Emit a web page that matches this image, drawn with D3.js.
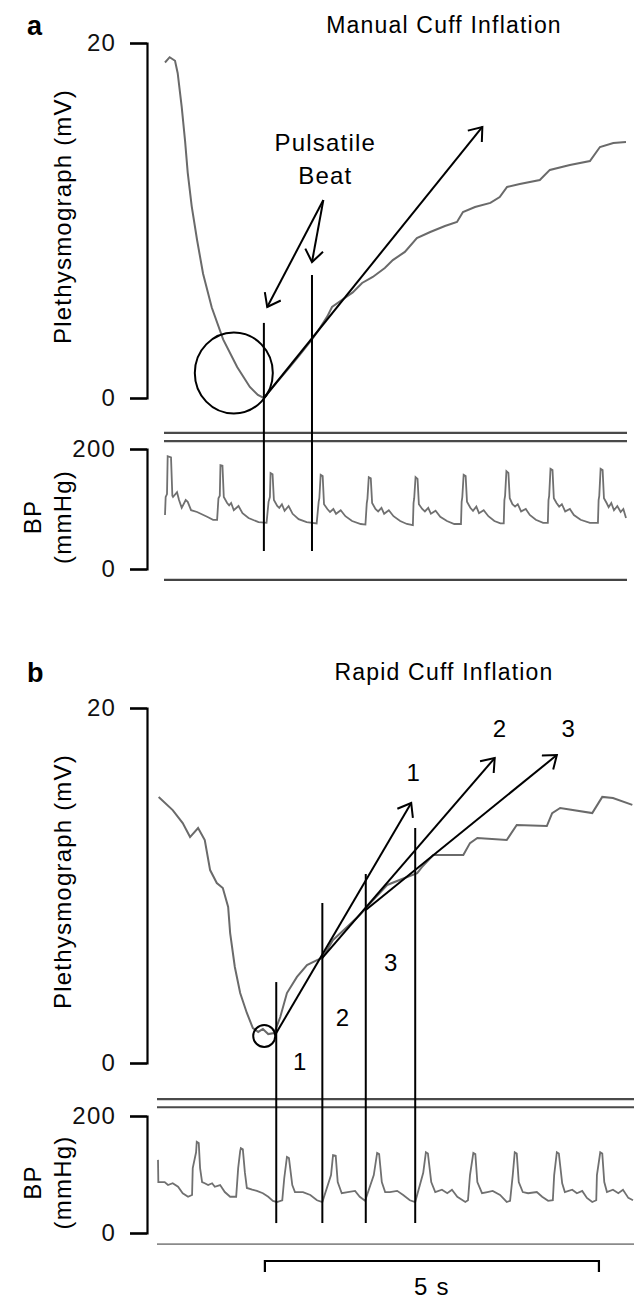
<!DOCTYPE html>
<html>
<head>
<meta charset="utf-8">
<script src="https://cdn.jsdelivr.net/npm/d3@7"></script>
<style>
  body { margin: 0; background: #fff; }
  text { font-family: "Liberation Sans", Arial, sans-serif; letter-spacing: 1.2px; }
</style>
</head>
<body>
<div id="chart"></div>
<script>
/* Cuff inflation traces: plethysmograph (mV) and BP (mmHg) against time (s) */

// ---- panel a: manual cuff inflation ----
const plethA = [
  [0.00,18.9],[0.07,19.2],[0.15,19.0],[0.19,18.3],[0.25,16.4],[0.30,14.5],[0.34,12.7],
  [0.40,10.8],[0.48,8.9],[0.57,7.0],[0.70,5.1],[0.87,3.3],[1.08,1.75],[1.27,0.62],
  [1.39,0.17],[1.48,0.0],[1.65,0.78],[1.87,1.75],[2.02,2.45],[2.20,3.3],[2.32,3.95],
  [2.43,4.6],[2.50,5.13],[2.62,5.45],[2.81,5.95],[2.95,6.48],[3.11,6.82],[3.29,7.32],
  [3.41,7.77],[3.59,8.23],[3.77,9.01],[3.97,9.35],[4.19,9.69],[4.37,9.92],[4.46,10.48],
  [4.64,10.76],[4.87,10.99],[5.01,11.32],[5.12,11.89],[5.31,12.06],[5.61,12.28],
  [5.76,12.85],[6.06,13.13],[6.36,13.35],[6.51,14.14],[6.71,14.37],[6.90,14.42]
];

const bpA = [
  [0.00,90],[0.01,120],[0.03,125],[0.04,188],[0.09,186],[0.11,122],[0.12,120],[0.18,128],
  [0.21,115],[0.25,102],[0.31,115],[0.34,112],[0.39,98],[0.48,95],[0.63,87],[0.72,82],[0.78,82],
  [0.80,118],[0.82,122],[0.83,173],[0.86,172],[0.88,120],[0.93,110],[0.96,106],[0.99,110],
  [1.03,98],[1.10,105],[1.16,93],[1.25,85],[1.40,78],[1.52,77],
  [1.55,112],[1.57,120],[1.58,160],[1.61,158],[1.63,115],[1.68,105],[1.71,102],[1.75,108],
  [1.79,97],[1.85,105],[1.91,92],[2.00,83],[2.12,78],[2.27,76],
  [2.30,112],[2.31,118],[2.33,157],[2.36,155],[2.38,108],[2.43,100],[2.47,95],[2.52,100],
  [2.56,92],[2.63,98],[2.70,88],[2.80,80],[2.93,75],[3.00,74],
  [3.02,110],[3.03,117],[3.05,153],[3.08,151],[3.10,110],[3.15,100],[3.19,96],[3.24,102],
  [3.28,92],[3.35,98],[3.42,88],[3.52,80],[3.62,75],[3.71,73],
  [3.72,110],[3.73,118],[3.75,153],[3.78,150],[3.80,108],[3.85,100],[3.89,96],[3.94,102],
  [3.98,92],[4.05,97],[4.12,87],[4.22,80],[4.33,75],[4.43,75],
  [4.44,112],[4.45,120],[4.47,157],[4.50,155],[4.52,112],[4.57,102],[4.61,97],[4.66,104],
  [4.70,93],[4.77,98],[4.84,88],[4.93,80],[5.02,76],[5.07,76],
  [5.08,115],[5.09,122],[5.11,163],[5.14,160],[5.16,118],[5.20,108],[5.24,104],[5.28,108],
  [5.33,96],[5.40,100],[5.46,90],[5.55,82],[5.66,77],[5.73,77],
  [5.74,115],[5.75,122],[5.77,167],[5.80,165],[5.82,118],[5.86,110],[5.90,104],[5.94,108],
  [5.99,96],[6.06,100],[6.12,90],[6.22,82],[6.36,77],[6.48,77],
  [6.49,115],[6.50,122],[6.52,167],[6.55,165],[6.57,118],[6.61,110],[6.64,103],[6.68,110],
  [6.72,98],[6.77,105],[6.82,95],[6.86,100],[6.90,85]
];

// slope arrow and "Pulsatile Beat" pointers, in (s, mV)
const slopeArrowA = [[1.48, 0.0], [4.75, 15.27]];
const beatPointerStart = [2.37, 11.15];
const beatPointerEnds = [[1.53, 5.13], [2.20, 7.66]];
const beatLinesA = [1.48, 2.20];        // s
const beatLineTopsA = [4.23, 6.93];     // mV
const beatLineBottomA = 30;             // mmHg
const circleA = [1.03, 1.41];           // s, mV
const frameA = [227, 213, -18];         // mmHg

// ---- panel b: rapid cuff inflation ----
const plethB = [
  [0.01,14.99],[0.22,14.25],[0.37,13.52],[0.48,12.73],[0.60,13.24],[0.70,12.56],[0.78,10.87],
  [0.88,10.14],[0.97,9.86],[1.05,8.79],[1.08,7.32],[1.15,5.41],[1.23,3.94],[1.33,2.82],
  [1.42,1.97],[1.50,1.75],[1.57,1.92],[1.65,1.63],[1.74,1.69],[1.83,2.59],[1.93,3.94],
  [2.08,4.85],[2.23,5.52],[2.38,5.80],[2.46,5.92],[2.62,6.93],[2.83,7.66],[3.02,8.34],
  [3.22,9.18],[3.43,10.03],[3.73,10.48],[3.88,10.70],[3.95,11.04],[4.12,11.72],[4.57,11.72],
  [4.67,12.39],[4.78,12.68],[5.22,12.56],[5.37,13.41],[5.82,13.35],[5.90,14.08],[6.02,14.37],
  [6.50,14.08],[6.65,14.99],[6.81,14.93],[7.10,14.54]
];

const bpB = [
  [0.00,125],[0.005,87],[0.10,87],[0.15,82],[0.22,85],[0.30,79],[0.37,68],[0.45,62],[0.51,65],
  [0.52,111],[0.57,138],[0.58,156],[0.61,154],[0.63,111],[0.66,87],[0.70,85],[0.75,82],
  [0.81,85],[0.85,79],[0.93,82],[1.00,70],[1.08,62],[1.17,62],
  [1.20,111],[1.23,140],[1.24,145],[1.27,143],[1.30,104],[1.33,77],[1.41,74],[1.48,72],
  [1.57,68],[1.65,62],[1.72,55],[1.78,53],
  [1.86,56],[1.89,94],[1.93,130],[1.96,128],[2.01,82],[2.05,70],[2.17,70],[2.28,65],[2.38,56],[2.46,53],
  [2.59,99],[2.62,133],[2.66,132],[2.69,87],[2.75,68],[2.84,70],[2.95,72],[3.02,62],[3.10,55],
  [3.23,99],[3.28,137],[3.31,135],[3.35,87],[3.40,70],[3.47,70],[3.58,72],[3.67,65],[3.77,56],[3.85,53],
  [3.97,103],[4.01,138],[4.04,136],[4.09,87],[4.15,70],[4.25,74],[4.33,68],[4.40,74],[4.48,62],
  [4.60,53],[4.64,56],
  [4.67,99],[4.72,137],[4.75,135],[4.78,87],[4.85,68],[4.93,70],[5.01,72],[5.12,65],[5.22,53],[5.27,55],
  [5.31,99],[5.34,138],[5.37,136],[5.40,87],[5.46,70],[5.54,68],[5.67,70],[5.75,62],[5.84,55],[5.91,56],
  [5.93,99],[5.97,138],[6.00,136],[6.05,85],[6.09,70],[6.20,74],[6.27,68],[6.35,72],[6.42,60],
  [6.50,53],[6.56,56],
  [6.57,99],[6.62,138],[6.65,136],[6.68,87],[6.72,70],[6.81,74],[6.89,68],[6.96,74],[7.04,60],[7.11,56]
];

const slopeArrowsB = [
  [[1.77, 1.69], [3.79, 14.65]],
  [[2.46, 5.92], [5.04, 17.18]],
  [[3.11, 8.62], [5.97, 17.35]]
];
const arrowLabelsB = [["1", 3.83, 16.39], ["2", 5.12, 18.87], ["3", 6.15, 18.87]];
const segmentLabelsB = [["1", 2.13, 0.06], ["2", 2.77, 2.54], ["3", 3.49, 5.69]];
const beatLinesB = [1.77, 2.46, 3.11, 3.85];
const beatLineTopsB = [4.56, 9.01, 10.65, 13.24];
const beatLineBottomB = 17;
const circleB = [1.59, 1.52];
const frameB = [229, 215, -19];
const scaleBar = [1.6, 6.6];   // 5 s

const plethTicks = [0, 20];
const bpTicks = [0, 200];

// ---- layout ----
const width = 636, height = 1301, axisX = 147;

const svg = d3.select("#chart").append("svg")
    .attr("width", width)
    .attr("height", height);

svg.append("defs").append("marker")
    .attr("id", "head")
    .attr("viewBox", "-16 -10 18 20")
    .attr("refX", 0).attr("refY", 0)
    .attr("markerWidth", 18).attr("markerHeight", 20)
    .attr("markerUnits", "userSpaceOnUse")
    .attr("orient", "auto")
  .append("path")
    .attr("d", "M-12,-9L0,0L-12,9")
    .attr("fill", "none")
    .attr("stroke", "#000")
    .attr("stroke-width", 2);

const panels = [
  { label: "a", title: "Manual Cuff Inflation", labelY: 35, titleY: 33,
    x: d3.scaleLinear().domain([0, 6.9]).range([165, 626]),
    yP: d3.scaleLinear().domain([0, 20]).range([398, 43]),
    yB: d3.scaleLinear().domain([0, 200]).range([569, 449]),
    pleth: plethA, bp: bpA, frame: frameA, circle: circleA, r: 39,
    lines: beatLinesA, tops: beatLineTopsA, bottom: beatLineBottomA, bottomColor: "#444" },
  { label: "b", title: "Rapid Cuff Inflation", labelY: 682, titleY: 680,
    x: d3.scaleLinear().domain([0, 7.11]).range([158, 633]),
    yP: d3.scaleLinear().domain([0, 20]).range([1063, 708]),
    yB: d3.scaleLinear().domain([0, 200]).range([1233, 1116]),
    pleth: plethB, bp: bpB, frame: frameB, circle: circleB, r: 11,
    lines: beatLinesB, tops: beatLineTopsB, bottom: beatLineBottomB, bottomColor: "#8a8a8a" }
];

panels.forEach(p => {
  const g = svg.append("g");

  g.append("text")
      .text(p.label)
      .attr("x", 27).attr("y", p.labelY)
      .style("font-size", "27px").style("font-weight", "bold");

  g.append("text")
      .text(p.title)
      .attr("x", 444).attr("y", p.titleY)
      .attr("text-anchor", "middle")
      .style("font-size", "23px");

  // bracket axes
  const axP = g.append("g")
      .attr("transform", `translate(${axisX},0)`)
      .call(d3.axisLeft(p.yP).tickValues(plethTicks).tickSize(17).tickSizeOuter(17).tickPadding(14));
  const axB = g.append("g")
      .attr("transform", `translate(${axisX},0)`)
      .call(d3.axisLeft(p.yB).tickValues(bpTicks).tickSize(17).tickSizeOuter(17).tickPadding(14));
  [axP, axB].forEach(ax => {
    ax.selectAll("path, line").attr("stroke", "#000").attr("stroke-width", 2.2);
    ax.selectAll("text").style("font-size", "24px").attr("fill", "#111")
      .style("font-family", "'Liberation Sans', Arial, sans-serif");
  });

  // axis titles
  const midP = (p.yP(0) + p.yP(20)) / 2 - 4;
  g.append("text")
      .text("Plethysmograph (mV)")
      .attr("transform", `translate(71,${midP}) rotate(-90)`)
      .attr("text-anchor", "middle")
      .style("font-size", "24px");
  const midB = (p.yB(0) + p.yB(200)) / 2 + 8;
  g.append("text")
      .text("BP")
      .attr("transform", `translate(41,${midB}) rotate(-90)`)
      .attr("text-anchor", "middle")
      .style("font-size", "24px");
  g.append("text")
      .text("(mmHg)")
      .attr("transform", `translate(71,${midB}) rotate(-90)`)
      .attr("text-anchor", "middle")
      .style("font-size", "24px");

  // recorder frame lines
  const [x0, x1] = p.x.range();
  g.selectAll(".frame")
    .data(p.frame)
    .join("line")
      .attr("x1", x0 - 1).attr("x2", x1 + 1)
      .attr("y1", d => p.yB(d)).attr("y2", d => p.yB(d))
      .attr("stroke", (d, i) => i < 2 ? "#4a4a4a" : p.bottomColor)
      .attr("stroke-width", (d, i) => i < 2 ? 2.2 : (p.label == "a" ? 2.2 : 1.6));

  // traces
  g.append("path")
      .datum(p.bp)
      .attr("fill", "none")
      .attr("stroke", "#707070")
      .attr("stroke-width", 1.8)
      .attr("d", d3.line().x(d => p.x(d[0])).y(d => p.yB(d[1])));

  g.append("path")
      .datum(p.pleth)
      .attr("fill", "none")
      .attr("stroke", "#6a6a6a")
      .attr("stroke-width", 2)
      .attr("d", d3.line().x(d => p.x(d[0])).y(d => p.yP(d[1])));

  // vertical beat markers across both traces
  g.selectAll(".beat")
    .data(p.lines)
    .join("line")
      .attr("x1", d => p.x(d)).attr("x2", d => p.x(d))
      .attr("y1", (d, i) => p.yP(p.tops[i]))
      .attr("y2", p.yB(p.bottom))
      .attr("stroke", "#000")
      .attr("stroke-width", 2);

  g.append("ellipse")
      .attr("cx", p.x(p.circle[0])).attr("cy", p.yP(p.circle[1]))
      .attr("rx", p.r).attr("ry", p.r + (p.label == "a" ? 1.5 : 0))
      .attr("fill", "none").attr("stroke", "#000").attr("stroke-width", 2);
});

const A = panels[0], B = panels[1];

function arrow(p, from, to) {
  svg.append("line")
      .attr("x1", p.x(from[0])).attr("y1", p.yP(from[1]))
      .attr("x2", p.x(to[0])).attr("y2", p.yP(to[1]))
      .attr("stroke", "#000").attr("stroke-width", 2)
      .attr("marker-end", "url(#head)");
}

// panel a annotations
arrow(A, slopeArrowA[0], slopeArrowA[1]);
beatPointerEnds.forEach(e => arrow(A, beatPointerStart, e));
svg.append("text")
    .text("Pulsatile")
    .attr("x", A.x(2.40)).attr("y", A.yP(13.9))
    .attr("text-anchor", "middle").style("font-size", "24px");
svg.append("text")
    .text("Beat")
    .attr("x", A.x(2.40)).attr("y", A.yP(12.06))
    .attr("text-anchor", "middle").style("font-size", "24px");

// panel b annotations
slopeArrowsB.forEach(s => arrow(B, s[0], s[1]));
arrowLabelsB.concat(segmentLabelsB).forEach(l => {
  svg.append("text")
      .text(l[0])
      .attr("x", B.x(l[1])).attr("y", B.yP(l[2]))
      .attr("text-anchor", "middle")
      .attr("dominant-baseline", "central")
      .style("font-size", "24px");
});

// 5 s scale bar
const sbY = 1261;
svg.append("path")
    .attr("d", `M${B.x(scaleBar[0])},${sbY + 11}V${sbY}H${B.x(scaleBar[1])}V${sbY + 11}`)
    .attr("fill", "none").attr("stroke", "#000").attr("stroke-width", 2.2);
svg.append("text")
    .text("5 s")
    .attr("x", (B.x(scaleBar[0]) + B.x(scaleBar[1])) / 2)
    .attr("y", 1295)
    .attr("text-anchor", "middle")
    .style("font-size", "24px");
</script>
</body>
</html>
